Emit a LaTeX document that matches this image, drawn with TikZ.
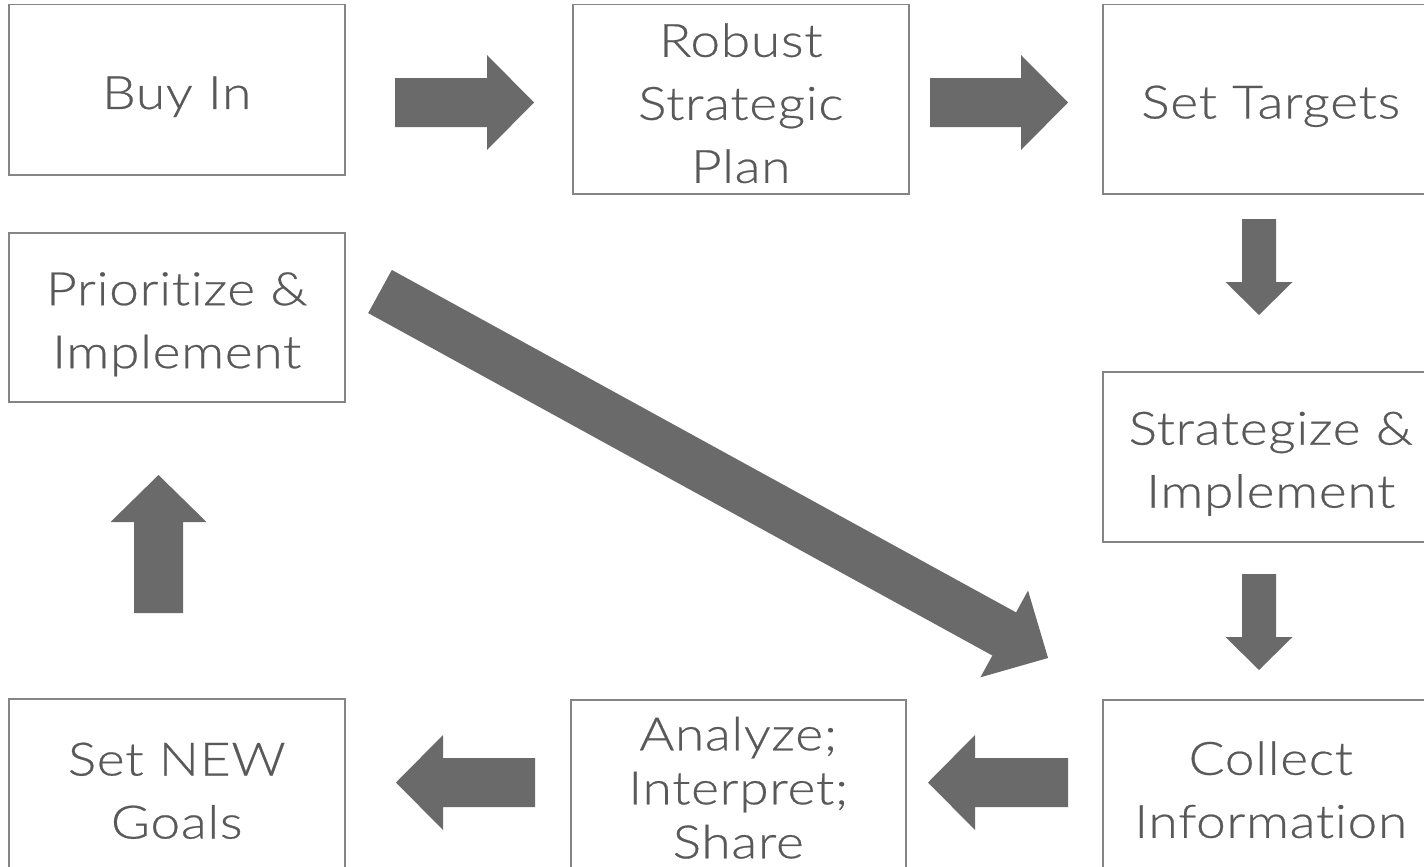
\documentclass[tikz,border=0pt]{standalone}
\usepackage{fontspec}
\setmainfont{Lato Light}[Ligatures=NoCommon,FakeStretch=1.16,LetterSpace=1.5,FakeBold=0.5]
\usetikzlibrary{positioning}

\definecolor{arrowgray}{HTML}{6A6A6A}
\definecolor{boxgray}{HTML}{858585}
\definecolor{textgray}{HTML}{595959}

\tikzset{
  pics/blockarrow/.style args={#1/#2/#3/#4}{code={
      \fill[flow] (0,-#2) -- (#1-#4,-#2) -- (#1-#4,-#3) -- (#1,0)
                  -- (#1-#4,#3) -- (#1-#4,#2) -- (0,#2) -- cycle;
  }}
}

\begin{document}
\begin{tikzpicture}[
                x=1pt,y=-1pt,
                box/.style={draw=boxgray,line width=1.5pt,anchor=north west,
                  minimum width=336pt,minimum height=170pt,inner sep=0pt},
                tall/.style={minimum height=189pt},
                lbl/.style={align=center,text=textgray,yshift=-7pt,
                  font=\fontsize{46}{63}\selectfont},
                flow/.style={fill=arrowgray}
            ]
                \useasboundingbox (0,0) rectangle (1424,867);
                % top row
                \node (buyin)   [box,label={[lbl]center:Buy In}] at (8,4) {};
                \node (plan)    [box,tall,label={[lbl,yshift=3pt]center:Robust\\Strategic\\Plan}] at (572,4) {};
                \node (targets) [box,tall,label={[lbl]center:Set Targets}] at (1102,4) {};
                % middle
                \node (prior)   [box,minimum height=169pt,label={[lbl]center:Prioritize \&\\Implement}] at (8,232) {};
                \node (strat)   [box,label={[lbl]center:Strategize \&\\Implement}] at (1102,371) {};
                % bottom row
                \node (goals)   [box,label={[lbl]center:Set NEW\\Goals}] at (8,698) {};
                \node (analyze) [box,minimum width=335pt,
                  label={[lbl,yshift=4pt,font=\fontsize{46}{54}\selectfont]center:Analyze;\\Interpret;\\Share}] at (570,699) {};
                \node (collect) [box,label={[lbl,yshift=2pt]center:Collect\\Information}] at (1102,699) {};
                % block arrows
                \pic              at (395,102.5)   {blockarrow=139/24.5/47.5/47};
                \pic              at (930,102.5)   {blockarrow=138/24.5/47.5/47};
                \pic[rotate=-90]  at (1259,219)    {blockarrow=96/17/33.5/33};
                \pic[rotate=-90]  at (1259,574)    {blockarrow=96/17/33.5/33};
                \pic[rotate=180]  at (1068,782.5)  {blockarrow=140/24.5/47.5/47};
                \pic[rotate=180]  at (535,782.5)   {blockarrow=139/24.5/47.5/47};
                \pic[rotate=90]   at (158.5,613)   {blockarrow=138/24.5/48/47};
                \pic[rotate=-28.75] at (380,291.5) {blockarrow=762/24.6/49.5/50};
            \end{tikzpicture}
\end{document}
